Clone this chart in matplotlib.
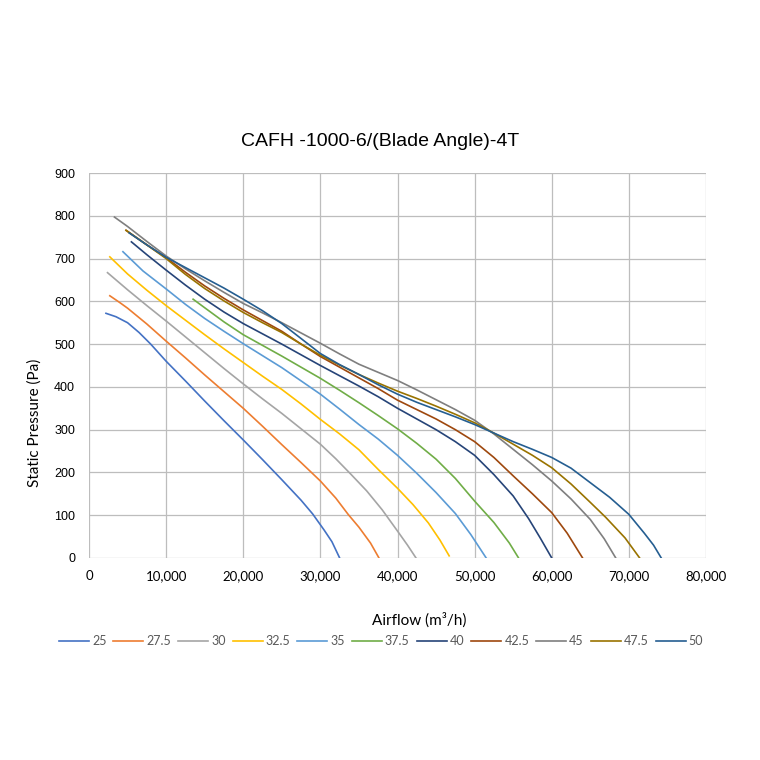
import matplotlib
matplotlib.use("Agg")
import matplotlib.pyplot as plt
from matplotlib.ticker import FuncFormatter, MultipleLocator

title = "CAFH -1000-6/(Blade Angle)-4T"
x_label = "Airflow (m³/h)"
y_label = "Static Pressure (Pa)"

angles = ["25", "27.5", "30", "32.5", "35", "37.5", "40", "42.5", "45", "47.5", "50"]
colors = ["#4472C4", "#ED7D31", "#A5A5A5", "#FFC000", "#5B9BD5", "#70AD47",
          "#264478", "#9E480E", "#7F7F7F", "#997300", "#255E91"]

flow_25 = [2200, 3500, 5000, 6500, 8000, 10000, 12500, 15000, 17500, 20000, 22500,
           25000, 27500, 29000, 30500, 31500, 32500]
pres_25 = [572, 564, 550, 527, 500, 460, 414, 367, 321, 276, 230,
           183, 135, 103, 65, 38, 0]

flow_275 = [2700, 4000, 5000, 7500, 10000, 12500, 15000, 17500, 20000, 22500, 25000,
            27500, 30000, 32000, 33600, 35000, 36500, 37600]
pres_275 = [613, 597, 584, 547, 507, 468, 428, 389, 350, 308, 265,
            223, 180, 140, 102, 72, 35, 0]

flow_30 = [2400, 5000, 7500, 10000, 12500, 15000, 17500, 20000, 22500, 25000, 27500,
           30000, 32000, 34000, 36000, 38000, 40000, 41300, 42400]
pres_30 = [667, 627, 590, 554, 517, 480, 443, 407, 372, 338, 302,
           266, 232, 195, 157, 113, 63, 30, 0]

flow_325 = [2700, 5000, 7500, 10000, 12500, 15000, 17500, 20000, 22500, 25000, 27500,
            30000, 32500, 35000, 37500, 40000, 42000, 44000, 45500, 46700]
pres_325 = [704, 664, 626, 590, 556, 522, 489, 457, 425, 394, 360,
            324, 290, 253, 207, 163, 125, 82, 42, 5]

flow_35 = [4400, 7000, 10000, 12500, 15000, 17500, 20000, 22500, 25000, 27500, 30000,
           32500, 35000, 37500, 40000, 42500, 45000, 47500, 49500, 51500]
pres_35 = [716, 671, 629, 593, 560, 530, 501, 473, 445, 414, 383,
           348, 312, 278, 240, 198, 153, 104, 55, 0]

flow_375 = [13500, 15000, 17500, 20000, 22500, 25000, 27500, 30000, 32500, 35000,
            37500, 40000, 42500, 45000, 47500, 50000, 52500, 54500, 55700]
pres_375 = [605, 585, 552, 522, 497, 472, 446, 420, 392, 363,
            333, 302, 268, 231, 186, 133, 83, 35, 0]

flow_40 = [5500, 7500, 10000, 12500, 15000, 17500, 20000, 22500, 25000, 27500, 30000,
           32500, 35000, 37500, 40000, 42500, 45000, 47500, 50000, 52500, 55000,
           57000, 58500, 60000]
pres_40 = [739, 709, 673, 638, 605, 575, 548, 524, 500, 475, 450,
           426, 402, 377, 350, 325, 300, 272, 240, 195, 145,
           92, 47, 0]

flow_425 = [4800, 7500, 10000, 12500, 15000, 17500, 20000, 22500, 25000, 27500, 30000,
            32500, 35000, 37500, 40000, 42500, 45000, 47500, 50000, 52500, 55000,
            57500, 60000, 62000, 64000]
pres_425 = [766, 732, 702, 668, 636, 607, 580, 555, 530, 500, 471,
            446, 421, 396, 369, 347, 325, 300, 272, 235, 192,
            150, 106, 58, 0]

flow_45 = [3300, 5000, 7500, 10000, 12500, 15000, 17500, 20000, 22500, 25000, 27500,
           30000, 32500, 35000, 37500, 40000, 42500, 45000, 47500, 50000, 52500,
           55000, 57500, 60000, 62500, 65000, 66800, 68300]
pres_45 = [797, 775, 740, 706, 676, 648, 621, 595, 573, 550, 526,
           502, 477, 453, 434, 415, 393, 370, 347, 322, 290,
           254, 218, 180, 138, 90, 45, 0]

flow_475 = [4800, 7500, 10000, 12500, 15000, 17500, 20000, 22500, 25000, 27500, 30000,
            32500, 35000, 37500, 40000, 42500, 45000, 47500, 50000, 52500, 55000,
            57500, 60000, 62500, 65000, 67000, 69500, 71400]
pres_475 = [766, 732, 700, 663, 630, 601, 574, 550, 527, 500, 474,
            451, 429, 409, 390, 373, 355, 336, 316, 292, 266,
            240, 211, 173, 130, 95, 47, 0]

flow_50 = [5200, 7500, 10000, 12500, 15000, 17500, 20000, 22500, 25000, 27500, 30000,
           32500, 35000, 37500, 40000, 42500, 45000, 47500, 50000, 52500, 55000,
           57500, 60000, 62500, 65000, 67500, 70000, 72000, 73200, 74200]
pres_50 = [760, 732, 703, 679, 655, 631, 605, 578, 548, 513, 478,
           452, 429, 405, 383, 364, 347, 330, 312, 292, 272,
           254, 235, 210, 176, 142, 102, 58, 30, 0]

flows = [flow_25, flow_275, flow_30, flow_325, flow_35, flow_375, flow_40,
         flow_425, flow_45, flow_475, flow_50]
pressures = [pres_25, pres_275, pres_30, pres_325, pres_35, pres_375, pres_40,
             pres_425, pres_45, pres_475, pres_50]

fig = plt.figure(figsize=(7.6, 7.6), dpi=100)
ax = fig.add_axes([89 / 760, 1 - 558 / 760, 617 / 760, 385 / 760])

for f, p, c, lab in zip(flows, pressures, colors, angles):
    ax.plot(f, p, color=c, lw=1.2, label=lab, solid_joinstyle="round")

ax.set_xlim(0, 80000)
ax.set_ylim(0, 900)
ax.xaxis.set_major_locator(MultipleLocator(10000))
ax.yaxis.set_major_locator(MultipleLocator(100))
ax.xaxis.set_major_formatter(FuncFormatter(lambda v, _: f"{int(v):,}"))
ax.grid(True, color="#BDBDBD", lw=0.9)
ax.set_axisbelow(True)
for s in ax.spines.values():
    s.set_visible(False)
ax.tick_params(length=0)
ax.tick_params(axis="x", pad=9, labelsize=9.5, labelcolor="#000000")
ax.tick_params(axis="y", pad=10, labelsize=9, labelcolor="#000000")
for t in ax.get_xticklabels():
    t.set_fontfamily("Lato")
for t in ax.get_yticklabels():
    t.set_fontfamily("Liberation Sans")

fig.text(0.5, 1 - 142 / 760, title, ha="center", va="center",
         fontsize=14, family="Liberation Sans", color="#000000")
fig.text(419 / 760, 1 - 620 / 760, x_label, ha="center", va="center",
         fontsize=11, family="Lato", color="#000000")
fig.text(35 / 760, 1 - 423 / 760, y_label, ha="center", va="center",
         rotation=90, fontsize=11, family="Lato", color="#000000")

leg = fig.legend(loc="center", bbox_to_anchor=(381 / 760, 1 - 641 / 760), ncol=11,
                 frameon=False, handlelength=2.4, handletextpad=0.25, columnspacing=0.55,
                 prop={"family": "Lato", "size": 9})
for t in leg.get_texts():
    t.set_color("#595959")

fig.savefig("out.png", dpi=100)
